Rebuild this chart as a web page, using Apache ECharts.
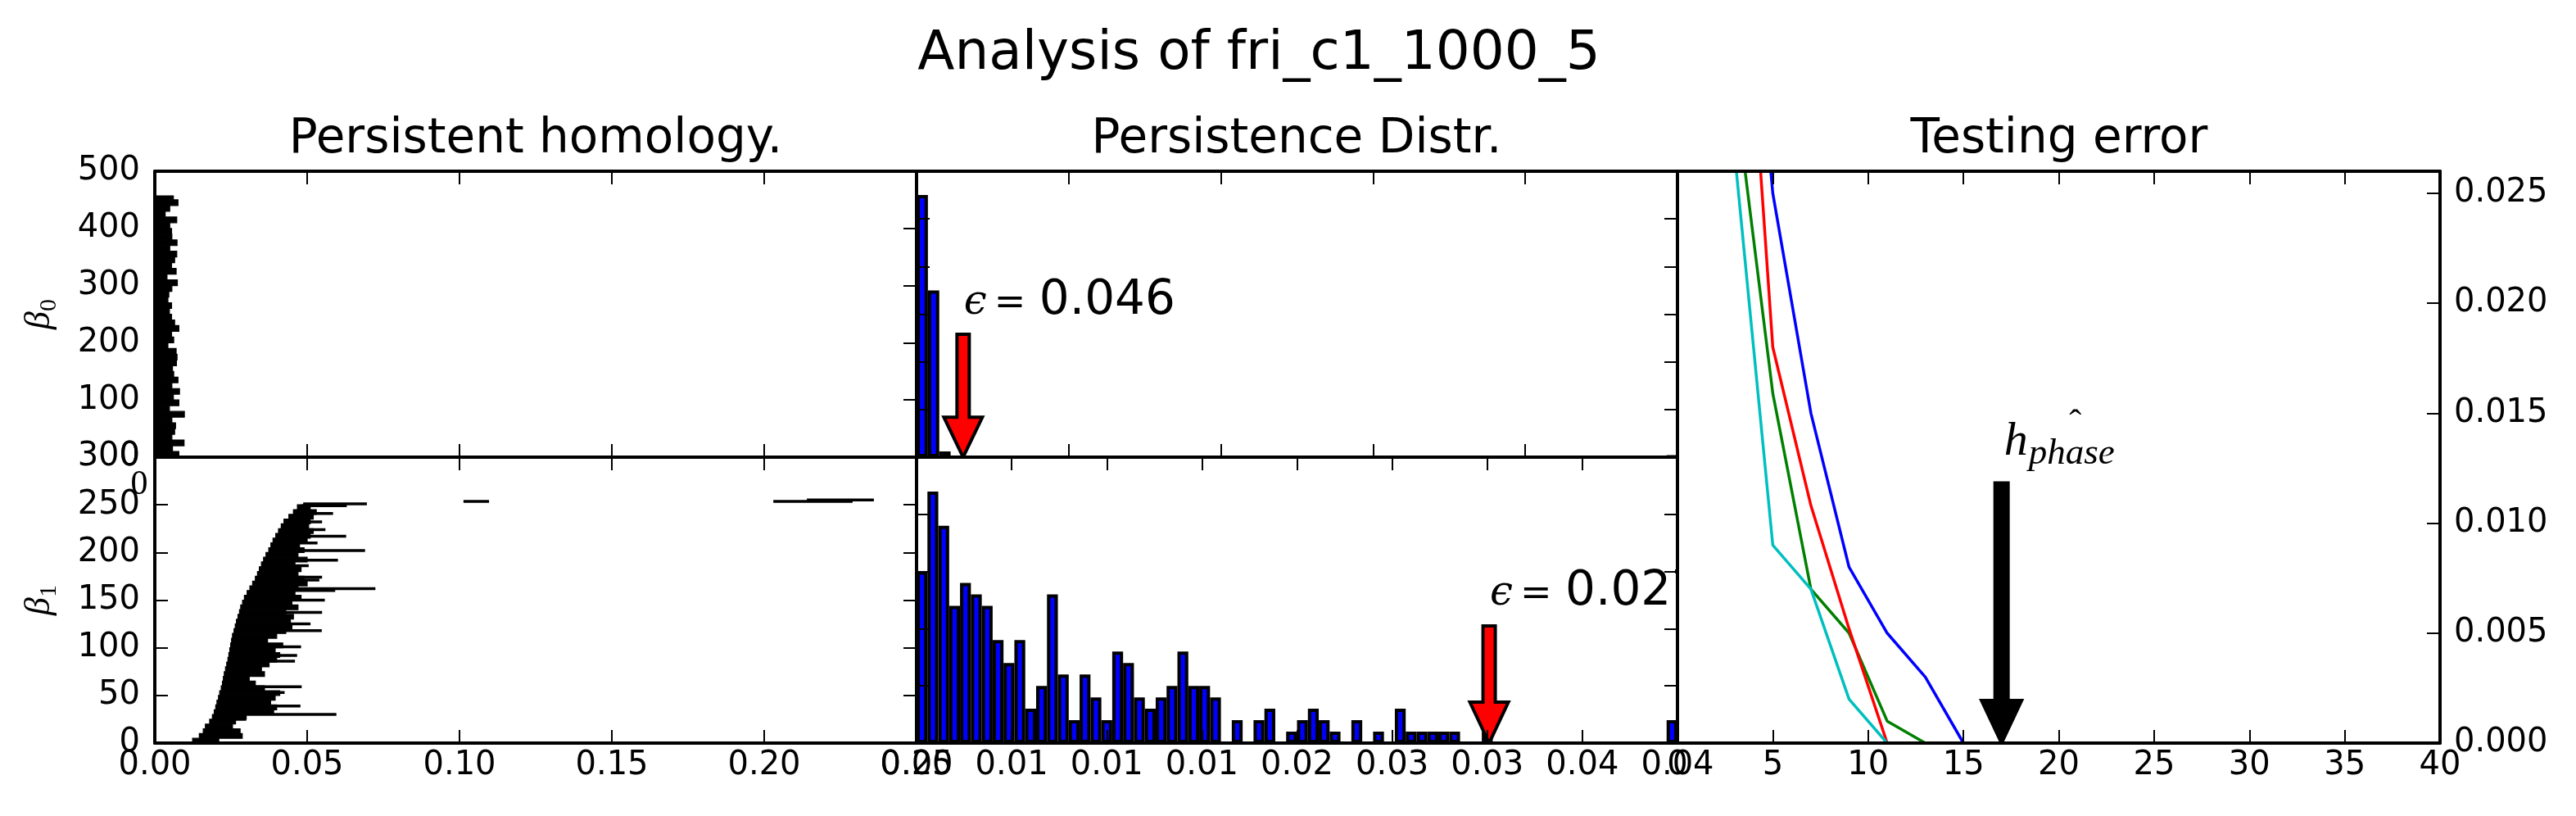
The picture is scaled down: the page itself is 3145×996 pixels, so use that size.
<!DOCTYPE html>
<html>
<head>
<meta charset="utf-8">
<title>Analysis of fri_c1_1000_5</title>
<script src="https://cdn.jsdelivr.net/npm/echarts@6/dist/echarts.min.js"></script>
<style>
  html, body { margin: 0; padding: 0; background: #fff; }
  #main { width: 3145px; height: 996px; }
</style>
</head>
<body>
<div id="main"></div>
<script>
// ---------- values ----------

// beta_0 barcode: 457 bars born at 0, drawn in blocks of 10 bars (death per block)
const beta0Count = 457;
const beta0Block = 10;
const beta0Deaths = [
  0.0079, 0.0058, 0.0096, 0.0056, 0.0065, 0.0068, 0.0056, 0.0097, 0.0048, 0.0079,
  0.0061, 0.0081, 0.0056, 0.0076, 0.0062, 0.0058, 0.0071, 0.0073, 0.0070, 0.0043,
  0.0062, 0.0055, 0.0079, 0.0065, 0.0055, 0.0048, 0.0055, 0.0043, 0.0046, 0.0056,
  0.0074, 0.0040, 0.0070, 0.0055, 0.0065, 0.0072, 0.0049, 0.0073, 0.0056, 0.0055,
  0.0049, 0.0072, 0.0034, 0.0049, 0.0076, 0.0061
];

// beta_1 barcode: dense part in blocks of 5 bars (birth, death), plus single long bars
const beta1Block = 5;
const beta1Births = [
  0.0124, 0.0146, 0.0159, 0.0166, 0.0180, 0.0189, 0.0195, 0.0200, 0.0204, 0.0209,
  0.0213, 0.0218, 0.0222, 0.0225, 0.0228, 0.0232, 0.0236, 0.0240, 0.0243, 0.0246,
  0.0249, 0.0252, 0.0255, 0.0260, 0.0264, 0.0268, 0.0273, 0.0278, 0.0282, 0.0288,
  0.0294, 0.0303, 0.0312, 0.0321, 0.0330, 0.0337, 0.0343, 0.0350, 0.0357, 0.0365,
  0.0374, 0.0381, 0.0388, 0.0397, 0.0406, 0.0415, 0.0424, 0.0440, 0.0455, 0.0468
];
const beta1Deaths = [
  0.0210, 0.0287, 0.0280, 0.0255, 0.0265, 0.0300, 0.0390, 0.0400, 0.0380, 0.0395,
  0.0410, 0.0360, 0.0330, 0.0310, 0.0360, 0.0350, 0.0375, 0.0400, 0.0410, 0.0395,
  0.0420, 0.0370, 0.0400, 0.0430, 0.0450, 0.0445, 0.0455, 0.0430, 0.0470, 0.0450,
  0.0480, 0.0460, 0.0470, 0.0500, 0.0490, 0.0470, 0.0480, 0.0460, 0.0500, 0.0470,
  0.0490, 0.0475, 0.0500, 0.0510, 0.0520, 0.0505, 0.0510, 0.0520, 0.0530, 0.0510
];
const spikeIndex = [251, 249, 241, 232, 224, 217, 210, 202, 192, 186, 174, 171, 162, 160, 150,
  137, 125, 118, 101, 92, 86, 59, 53, 39, 30, 25, 8, 253.5, 253.5, 255];
const spikeBirth = [0.0487, 0.0480, 0.0455, 0.0430, 0.0410, 0.0400, 0.0388, 0.0376, 0.0360, 0.0350,
  0.0335, 0.0331, 0.0314, 0.0312, 0.0294, 0.0280, 0.0268, 0.0262, 0.0250, 0.0244, 0.0240,
  0.0221, 0.0215, 0.0203, 0.0195, 0.0189, 0.0150, 0.1013, 0.2030, 0.2140];
const spikeDeath = [0.0696, 0.0630, 0.0585, 0.0549, 0.0560, 0.0628, 0.0534, 0.0690, 0.0601, 0.0505,
  0.0549, 0.0540, 0.0724, 0.0592, 0.0558, 0.0549, 0.0511, 0.0548, 0.0480, 0.0467, 0.0460,
  0.0482, 0.0426, 0.0478, 0.0596, 0.0300, 0.0287, 0.1097, 0.2290, 0.2360];

// persistence histograms (70 bins each)
const distrTopCounts = [275, 175, 6,
  0, 0, 0, 0, 0, 0, 0, 0, 0, 0, 0, 0, 0, 0, 0, 0, 0, 0, 0, 0, 0, 0, 0, 0, 0, 0, 0, 0, 0, 0,
  0, 0, 0, 0, 0, 0, 0, 0, 0, 0, 0, 0, 0, 0, 0, 0, 0, 0, 0, 0, 0, 0, 0, 0, 0, 0, 0, 0, 0, 0,
  0, 0, 0, 1];
const distrBottomCounts = [
  15, 22, 19, 12, 14, 13, 12, 9, 7, 9,
  3, 5, 13, 6, 2, 6, 4, 2, 8, 7,
  4, 3, 4, 5, 8, 5, 5, 4, 0, 2,
  0, 2, 3, 0, 1, 2, 3, 2, 1, 0,
  2, 0, 1, 0, 3, 1, 1, 1, 1, 1,
  0, 0, 1, 0, 0, 0, 0, 0, 0, 0,
  0, 0, 0, 0, 0, 0, 0, 0, 0, 2
];
const distrTickLabels = ['0.00', '0.01', '0.01', '0.01', '0.02', '0.03', '0.03', '0.04', '0.04'];

// testing error curves
const errX = [3, 5, 7, 9, 11, 13, 15];
const errBlue = [0.0440, 0.0250, 0.0150, 0.0080, 0.0050, 0.0030, 0.0000];
const errGreen = [0.0298, 0.0159, 0.0070, 0.0050, 0.0010, 0.0000, null];
const errRed = [0.0430, 0.0180, 0.0108, 0.0052, 0.0000, null, null];
const errCyan = [0.0268, 0.0090, 0.0070, 0.0020, 0.0000, null, null];

// annotations (data units of their panel)
const epsTop = { text: '0.046', x: 0.0153, top: 129, neck: 42, textY: 148.7 };
const epsBottom = { text: '0.027', x: 0.0301, top: 10.24, neck: 3.58, textY: 11.96 };
const hPhase = { x: 17, top: 0.01183, neck: 0.00194, textY: 0.01302 };

// ---------- chart ----------
const SANS = 'DejaVu Sans';
const chart = echarts.init(document.getElementById('main'));

function valAxis(grid, pos, min, max, step, showLabel, fmt, margin) {
  return {
    type: 'value', gridIndex: grid, position: pos, min: min, max: max, interval: step, z: 5,
    axisLine: { show: true, onZero: false, lineStyle: { color: '#000', width: 4 } },
    axisTick: { show: true, inside: true, length: 16, lineStyle: { color: '#000', width: 2 } },
    axisLabel: {
      show: showLabel, color: '#000', fontFamily: SANS, fontSize: 40,
      margin: margin || 8, formatter: fmt
    },
    splitLine: { show: false }
  };
}
function catAxis(grid, n) {
  return { type: 'category', gridIndex: grid, show: false, data: n.map((_, i) => i) };
}

// baseline -> middle for zrender text
function mid(baseline, size) { return baseline - 0.3 * size; }

function arrowShape(x, yTop, yNeck, yTip, shaftW, headW, fill) {
  const s = shaftW / 2, h = headW / 2;
  return {
    type: 'polygon',
    shape: { points: [[x - s, yTop], [x + s, yTop], [x + s, yNeck], [x + h, yNeck], [x, yTip], [x - h, yNeck], [x - s, yNeck]] },
    style: { fill: fill, stroke: '#000', lineWidth: 4, lineJoin: 'miter' }
  };
}

function epsRender(label) {
  return function (params, api) {
    const x = api.value(0);
    const tip = api.coord([x, 0]);
    const top = api.coord([x, api.value(1)]);
    const neck = api.coord([x, api.value(2)]);
    const base = api.coord([x, api.value(3)])[1];
    return {
      type: 'group',
      children: [
        arrowShape(tip[0], top[1], neck[1], tip[1], 15, 47, '#ff0000'),
        { type: 'text', x: tip[0] + 1, y: mid(base, 50),
          style: { text: 'ϵ', fontFamily: 'DejaVu Serif', fontStyle: 'italic', fontSize: 50, fill: '#000', verticalAlign: 'middle' } },
        { type: 'text', x: tip[0] + 38, y: mid(base, 46),
          style: { text: '=', fontFamily: 'DejaVu Serif', fontSize: 46, fill: '#000', verticalAlign: 'middle' } },
        { type: 'text', x: tip[0] + 93, y: mid(base, 58),
          style: { text: label, fontFamily: SANS, fontSize: 58, fill: '#000', verticalAlign: 'middle' } }
      ]
    };
  };
}

function hRender(params, api) {
  const x = api.value(0);
  const tip = api.coord([x, 0]);
  const top = api.coord([x, api.value(1)]);
  const neck = api.coord([x, api.value(2)]);
  const base = api.coord([x, api.value(3)])[1];
  return {
    type: 'group',
    children: [
      arrowShape(tip[0], top[1], neck[1], tip[1], 16, 49, '#000'),
      { type: 'text', x: tip[0] + 3, y: mid(base, 58),
        style: { text: 'h', fontFamily: 'Liberation Serif', fontStyle: 'italic', fontSize: 58, fill: '#000', verticalAlign: 'middle' } },
      { type: 'text', x: tip[0] + 33, y: mid(base + 10, 45),
        style: { text: 'phase', fontFamily: 'Liberation Serif', fontStyle: 'italic', fontSize: 45, fill: '#000', verticalAlign: 'middle' } },
      { type: 'text', x: tip[0] + 90, y: base - 39,
        style: { text: 'ˆ', fontFamily: 'Liberation Serif', fontSize: 45, fill: '#000', align: 'center', verticalAlign: 'middle' } }
    ]
  };
}

// blocks are stroked with the fill colour so neighbouring blocks join without seams
function blockRender(params, api) {
  const p0 = api.coord([api.value(0), api.value(3)]);
  const p1 = api.coord([api.value(1), api.value(2)]);
  return { type: 'rect', shape: { x: p0[0], y: p0[1], width: p1[0] - p0[0], height: p1[1] - p0[1] },
    style: { fill: '#000', stroke: '#000', lineWidth: 1.2 } };
}
function spikeRender(params, api) {
  const p0 = api.coord([api.value(0), api.value(2)]);
  const p1 = api.coord([api.value(1), api.value(2)]);
  return { type: 'rect', shape: { x: p0[0], y: p0[1] - 1.75, width: p1[0] - p0[0], height: 3.5 }, style: { fill: '#000' } };
}

const beta0Data = beta0Deaths.map((d, i) =>
  [0, d, i * beta0Block, Math.min((i + 1) * beta0Block, beta0Count)]);
const beta1Data = beta1Births.map((b, i) =>
  [b, beta1Deaths[i], i * beta1Block, (i + 1) * beta1Block]);
const spikeData = spikeIndex.map((k, i) => [spikeBirth[i], spikeDeath[i], k]);

function errLine(ys, color) {
  return {
    type: 'line', xAxisIndex: 10, yAxisIndex: 8, clip: true,
    data: errX.map((x, i) => [x, ys[i]]).filter(p => p[1] !== null),
    symbol: 'none', lineStyle: { color: color, width: 3.5 }, z: 3
  };
}

const fixed2 = v => v.toFixed(2);

const option = {
  animation: false,
  backgroundColor: '#fff',
  grid: [
    { left: 189, top: 209, width: 930, height: 349 },
    { left: 189, top: 558, width: 930, height: 349 },
    { left: 1119, top: 209, width: 929, height: 349 },
    { left: 1119, top: 558, width: 929, height: 349 },
    { left: 2048, top: 209, width: 931, height: 698 }
  ],
  xAxis: [
    valAxis(0, 'bottom', 0, 0.25, 0.05, false),
    valAxis(0, 'top', 0, 0.25, 0.05, false),
    valAxis(1, 'bottom', 0, 0.25, 0.05, true, fixed2),
    valAxis(1, 'top', 0, 0.25, 0.05, false),
    valAxis(2, 'bottom', 0, 0.25, 0.05, false),
    valAxis(2, 'top', 0, 0.25, 0.05, false),
    catAxis(2, distrTopCounts),
    valAxis(3, 'bottom', 0, 0.04, 0.005, true, v => distrTickLabels[Math.round(v / 0.005)]),
    valAxis(3, 'top', 0, 0.04, 0.005, false),
    catAxis(3, distrBottomCounts),
    valAxis(4, 'bottom', 0, 40, 5, true, v => String(v)),
    valAxis(4, 'top', 0, 40, 5, false)
  ],
  yAxis: [
    valAxis(0, 'left', 0, 500, 100, true, v => String(v), 18),
    valAxis(0, 'right', 0, 500, 100, false),
    valAxis(1, 'left', 0, 300, 50, true, v => String(v), 18),
    valAxis(1, 'right', 0, 300, 50, false),
    valAxis(2, 'left', 0, 300, 50, false),
    valAxis(2, 'right', 0, 300, 50, false),
    valAxis(3, 'left', 0, 25, 5, false),
    valAxis(3, 'right', 0, 25, 5, false),
    valAxis(4, 'right', 0, 0.026, 0.005, true,
      v => (Math.abs(v / 0.005 - Math.round(v / 0.005)) < 1e-6 ? v.toFixed(3) : ''), 17),
    Object.assign(valAxis(4, 'left', 0, 0.026, 0.005, false), { axisTick: { show: false } })
  ],
  series: [
    { type: 'custom', xAxisIndex: 0, yAxisIndex: 0, renderItem: blockRender, data: beta0Data,
      encode: { x: [0, 1], y: [2, 3] }, clip: true, z: 2 },
    { type: 'custom', xAxisIndex: 2, yAxisIndex: 2, renderItem: blockRender, data: beta1Data,
      encode: { x: [0, 1], y: [2, 3] }, clip: true, z: 2 },
    { type: 'custom', xAxisIndex: 2, yAxisIndex: 2, renderItem: spikeRender, data: spikeData,
      encode: { x: [0, 1], y: 2 }, clip: true, z: 2 },
    { type: 'bar', xAxisIndex: 6, yAxisIndex: 4, data: distrTopCounts,
      barCategoryGap: '0%', barGap: '0%',
      itemStyle: { color: '#0000ff', borderColor: '#000', borderWidth: 4 }, z: 2 },
    { type: 'bar', xAxisIndex: 9, yAxisIndex: 6, data: distrBottomCounts,
      barCategoryGap: '0%', barGap: '0%',
      itemStyle: { color: '#0000ff', borderColor: '#000', borderWidth: 4 }, z: 2 },
    { type: 'custom', xAxisIndex: 4, yAxisIndex: 4, renderItem: epsRender(epsTop.text), clip: true, z: 3,
      data: [[epsTop.x, epsTop.top, epsTop.neck, epsTop.textY]] },
    { type: 'custom', xAxisIndex: 7, yAxisIndex: 6, renderItem: epsRender(epsBottom.text), clip: true, z: 3,
      data: [[epsBottom.x, epsBottom.top, epsBottom.neck, epsBottom.textY]] },
    errLine(errBlue, '#0000ff'),
    errLine(errGreen, '#008000'),
    errLine(errRed, '#ff0000'),
    errLine(errCyan, '#00bfbf'),
    { type: 'custom', xAxisIndex: 10, yAxisIndex: 8, renderItem: hRender, clip: true, z: 3,
      data: [[hPhase.x, hPhase.top, hPhase.neck, hPhase.textY]] }
  ],
  graphic: [
    { type: 'text', x: 1537, y: mid(87, 66),
      style: { text: 'Analysis of fri_c1_1000_5', fontFamily: SANS, fontSize: 66, fill: '#000', align: 'center', verticalAlign: 'middle' } },
    { type: 'text', x: 654, y: mid(188, 58),
      style: { text: 'Persistent homology.', fontFamily: SANS, fontSize: 58, fill: '#000', align: 'center', verticalAlign: 'middle' } },
    { type: 'text', x: 1583, y: mid(188, 58),
      style: { text: 'Persistence Distr.', fontFamily: SANS, fontSize: 58, fill: '#000', align: 'center', verticalAlign: 'middle' } },
    { type: 'text', x: 2514, y: mid(188, 58),
      style: { text: 'Testing error', fontFamily: SANS, fontSize: 58, fill: '#000', align: 'center', verticalAlign: 'middle' } },
    { type: 'group', x: 62, y: 384, rotation: Math.PI / 2, children: [
      { type: 'text', x: -18, y: mid(0, 44),
        style: { text: 'β', fontFamily: 'Liberation Serif', fontStyle: 'italic', fontSize: 44, fill: '#000', verticalAlign: 'middle' } },
      { type: 'text', x: 4, y: mid(7, 30),
        style: { text: '0', fontFamily: 'Liberation Serif', fontSize: 30, fill: '#000', verticalAlign: 'middle' } }
    ] },
    { type: 'group', x: 62, y: 733, rotation: Math.PI / 2, children: [
      { type: 'text', x: -18, y: mid(0, 44),
        style: { text: 'β', fontFamily: 'Liberation Serif', fontStyle: 'italic', fontSize: 44, fill: '#000', verticalAlign: 'middle' } },
      { type: 'text', x: 4, y: mid(7, 30),
        style: { text: '1', fontFamily: 'Liberation Serif', fontSize: 30, fill: '#000', verticalAlign: 'middle' } }
    ] },
    { type: 'text', x: 170, y: 592,
      style: { text: '0', fontFamily: 'Liberation Serif', fontSize: 42, fill: '#000', align: 'center', verticalAlign: 'middle' } }
  ]
};

chart.setOption(option);
</script>
</body>
</html>
